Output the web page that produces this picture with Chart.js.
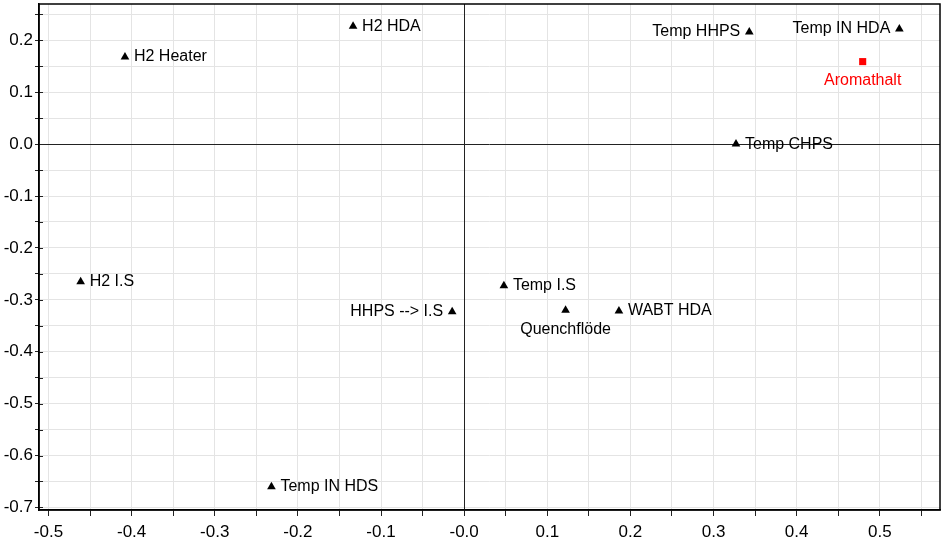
<!DOCTYPE html>
<html><head><meta charset="utf-8">
<script src="https://cdn.jsdelivr.net/npm/chart.js@4/dist/chart.umd.min.js"></script>
<style>html,body{margin:0;padding:0;background:#fff}#wrap{width:942px;height:544px}</style>
</head><body><div id="wrap"><canvas id="c" width="942" height="544"></canvas></div>
<script>
// Loadings (variables, black triangles)
const variableNames = ['H2 Heater','H2 HDA','Temp HHPS','Temp IN HDA','Temp CHPS','H2 I.S','HHPS --> I.S','Temp I.S','Quenchflöde','WABT HDA','Temp IN HDS'];
const variableX = [-0.408,-0.1336,0.343,0.5235,0.327,-0.4613,-0.0144,0.0478,0.122,0.1862,-0.2318];
const variableY = [0.168,0.227,0.216,0.222,0.000,-0.265,-0.323,-0.273,-0.320,-0.3215,-0.660];
const variableLabelSide = ['right','right','left','left','right','right','left','right','below','right','right'];
// Response (red square)
const responseNames = ['Aromathalt'];
const responseX = [0.4794];
const responseY = [0.159];
const responseLabelSide = ['below'];
// Axes
const xTickValues = [-0.5,-0.45,-0.4,-0.35,-0.3,-0.25,-0.2,-0.15,-0.1,-0.05,0,0.05,0.1,0.15,0.2,0.25,0.3,0.35,0.4,0.45,0.5,0.55];
const xTickLabels = ['-0.5','','-0.4','','-0.3','','-0.2','','-0.1','','-0.0','','0.1','','0.2','','0.3','','0.4','','0.5',''];
const yTickValues = [-0.7,-0.65,-0.6,-0.55,-0.5,-0.45,-0.4,-0.35,-0.3,-0.25,-0.2,-0.15,-0.1,-0.05,0,0.05,0.1,0.15,0.2,0.25];
const yTickLabels = ['-0.7','','-0.6','','-0.5','','-0.4','','-0.3','','-0.2','','-0.1','','0.0','','0.1','','0.2',''];
const xRange = [-0.5114, 0.5724];
const yRange = [-0.705, 0.270];

const FONT = '"Liberation Sans", Arial, sans-serif';

const frame = {
  id: 'frame',
  beforeDatasetsDraw(chart) {
    const a = chart.chartArea, ctx = chart.ctx;
    const x0 = chart.scales.x.getPixelForValue(0);
    const y0 = chart.scales.y.getPixelForValue(0);
    ctx.save();
    ctx.strokeStyle = '#222';
    ctx.lineWidth = 1;
    ctx.beginPath();
    ctx.moveTo(Math.round(x0) + 0.5, a.top); ctx.lineTo(Math.round(x0) + 0.5, a.bottom);
    ctx.moveTo(a.left, Math.round(y0) + 0.5); ctx.lineTo(a.right, Math.round(y0) + 0.5);
    // small inward tick marks on the left axis
    chart.scales.y.ticks.forEach(t => {
      const py = Math.round(chart.scales.y.getPixelForValue(t.value)) + 0.5;
      ctx.moveTo(a.left, py); ctx.lineTo(a.left + 4, py);
    });
    ctx.stroke();
    ctx.restore();
  },
  afterDraw(chart) {
    const a = chart.chartArea, ctx = chart.ctx;
    ctx.save();
    ctx.strokeStyle = '#000';
    ctx.lineWidth = 1.5;
    ctx.strokeRect(a.left, a.top, a.right - a.left, a.bottom - a.top);
    ctx.restore();
  }
};

const pointLabels = {
  id: 'pointLabels',
  afterDatasetsDraw(chart) {
    const ctx = chart.ctx;
    ctx.save();
    ctx.font = '16px ' + FONT;
    chart.data.datasets.forEach((ds, di) => {
      const meta = chart.getDatasetMeta(di);
      meta.data.forEach((el, i) => {
        const side = ds.labelSides[i];
        const txt = ds.names[i];
        ctx.fillStyle = ds.labelColor;
        if (side === 'right') {
          ctx.textAlign = 'left'; ctx.textBaseline = 'middle';
          ctx.fillText(txt, el.x + 9, el.y);
        } else if (side === 'left') {
          ctx.textAlign = 'right'; ctx.textBaseline = 'middle';
          ctx.fillText(txt, el.x - 9, el.y);
        } else {
          ctx.textAlign = 'center'; ctx.textBaseline = 'middle';
          ctx.fillText(txt, el.x, el.y + 19);
        }
      });
    });
    ctx.restore();
  }
};

const gridColor = '#e4e4e4';

new Chart(document.getElementById('c'), {
  type: 'scatter',
  data: {
    datasets: [
      {
        data: variableX.map((x, i) => ({x, y: variableY[i]})),
        names: variableNames, labelSides: variableLabelSide, labelColor: '#000',
        pointStyle: 'triangle', pointRadius: 5, backgroundColor: '#000', borderColor: '#000', borderWidth: 0
      },
      {
        data: responseX.map((x, i) => ({x, y: responseY[i]})),
        names: responseNames, labelSides: responseLabelSide, labelColor: '#ff0000',
        pointStyle: 'rect', pointRadius: 5, backgroundColor: '#ff0000', borderColor: '#ff0000', borderWidth: 0
      }
    ]
  },
  options: {
    responsive: false, animation: false, devicePixelRatio: 1,
    layout: { autoPadding: false, padding: { top: 4, right: 2, left: 0, bottom: 0 } },
    plugins: { legend: { display: false }, tooltip: { enabled: false } },
    scales: {
      x: {
        type: 'linear', min: xRange[0], max: xRange[1],
        afterBuildTicks: s => { s.ticks = xTickValues.map(v => ({value: v})); },
        afterFit: s => { s.height = 34; s.paddingLeft = 0; s.paddingRight = 0; },
        ticks: { callback: (v, i) => xTickLabels[i], font: { family: FONT, size: 17 }, color: '#000', padding: 6, maxRotation: 0, autoSkip: false },
        grid: { color: gridColor, tickColor: '#222', tickLength: 6, lineWidth: 1 },
        border: { display: true, color: '#000', width: 1.5 }
      },
      y: {
        type: 'linear', min: yRange[0], max: yRange[1],
        afterBuildTicks: s => { s.ticks = yTickValues.map(v => ({value: v})); },
        afterFit: s => { s.width = 39; s.paddingTop = 0; s.paddingBottom = 0; },
        ticks: { callback: (v, i) => yTickLabels[i], font: { family: FONT, size: 17 }, color: '#000', padding: 2, autoSkip: false },
        grid: { color: gridColor, tickColor: '#222', tickLength: 4, lineWidth: 1 },
        border: { display: true, color: '#000', width: 1.5 }
      }
    }
  },
  plugins: [frame, pointLabels]
});
</script></body></html>
